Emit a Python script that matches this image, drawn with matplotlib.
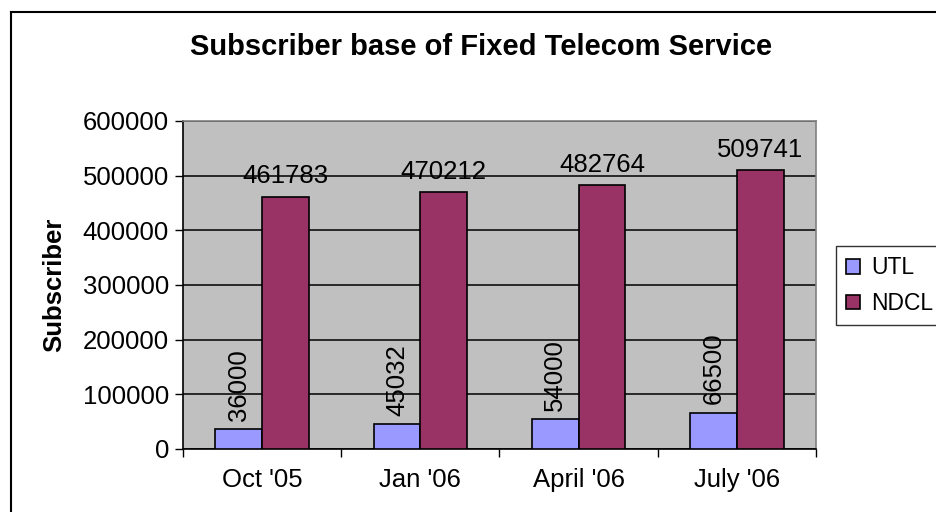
import matplotlib.pyplot as plt
import numpy as np
from matplotlib.lines import Line2D

plt.rcParams['font.family'] = ['Liberation Sans', 'DejaVu Sans']

periods = ["Oct '05", "Jan '06", "April '06", "July '06"]
utl = [36000, 45032, 54000, 66500]
ndcl = [461783, 470212, 482764, 509741]
yticks = [0, 100000, 200000, 300000, 400000, 500000, 600000]

fs = 18.5
fig = plt.figure(figsize=(9.37, 5.12), dpi=100)
ax = fig.add_axes([183 / 937, 1 - 449 / 512, (816 - 183) / 937, (449 - 121) / 512])
ax.set_facecolor("#C0C0C0")

x = np.arange(len(periods))
w = 0.295
b1 = ax.bar(x - w / 2, utl, w, color="#9999FF", edgecolor="black", linewidth=1.2, label="UTL", zorder=3)
b2 = ax.bar(x + w / 2, ndcl, w, color="#993366", edgecolor="black", linewidth=1.2, label="NDCL", zorder=3)

for rect, v in zip(b1, utl):
    ax.annotate(str(v), (rect.get_x() + rect.get_width() / 2, v), xytext=(0, 6),
                textcoords="offset points", ha="center", va="bottom", rotation=90, fontsize=fs)
for rect, v in zip(b2, ndcl):
    ax.annotate(str(v), (rect.get_x() + rect.get_width() / 2, v), xytext=(0, 6),
                textcoords="offset points", ha="center", va="bottom", fontsize=fs)

ax.set_xlim(-0.5, len(periods) - 0.5)
ax.set_ylim(0, 600000)
ax.set_yticks(yticks)
ax.set_yticklabels([str(t) for t in yticks], fontsize=fs)
ax.yaxis.grid(True, color="black", linewidth=1.1, zorder=1)
ax.set_axisbelow(True)

ax.set_xticks(x)
ax.set_xticklabels(periods, fontsize=fs)
ax.tick_params(axis="x", which="major", length=0, pad=14)
ax.set_xticks(np.arange(-0.5, len(periods), 1.0), minor=True)
ax.tick_params(axis="x", which="minor", length=6, width=1, direction="out")
ax.tick_params(axis="y", length=6, width=1, direction="out", pad=4)

ax.spines["left"].set_color("black")
ax.spines["bottom"].set_color("black")
ax.spines["top"].set_color("#808080")
ax.spines["right"].set_color("#808080")
for s in ax.spines.values():
    s.set_linewidth(1.2)

ax.set_ylabel("Subscriber", fontsize=fs, fontweight="bold", labelpad=12)

fig.text(0.513, 1 - 47 / 512, "Subscriber base of Fixed Telecom Service",
         ha="center", va="center", fontsize=21, fontweight="bold")

leg = fig.legend(handles=[b1, b2], loc="upper left", bbox_to_anchor=(836 / 937, 1 - 246 / 512),
                 fontsize=16.5, frameon=True, fancybox=False, handlelength=0.6, handleheight=0.6,
                 handletextpad=0.5, borderpad=0.45, labelspacing=0.55, borderaxespad=0)
leg.get_frame().set_edgecolor("black")
leg.get_frame().set_linewidth(1)

fig.add_artist(Line2D([11 / 937, 11 / 937], [0, 1 - 12 / 512], color="black", linewidth=1.5))
fig.add_artist(Line2D([11 / 937, 1], [1 - 12 / 512, 1 - 12 / 512], color="black", linewidth=1.5))

fig.savefig("out.png", dpi=100)
